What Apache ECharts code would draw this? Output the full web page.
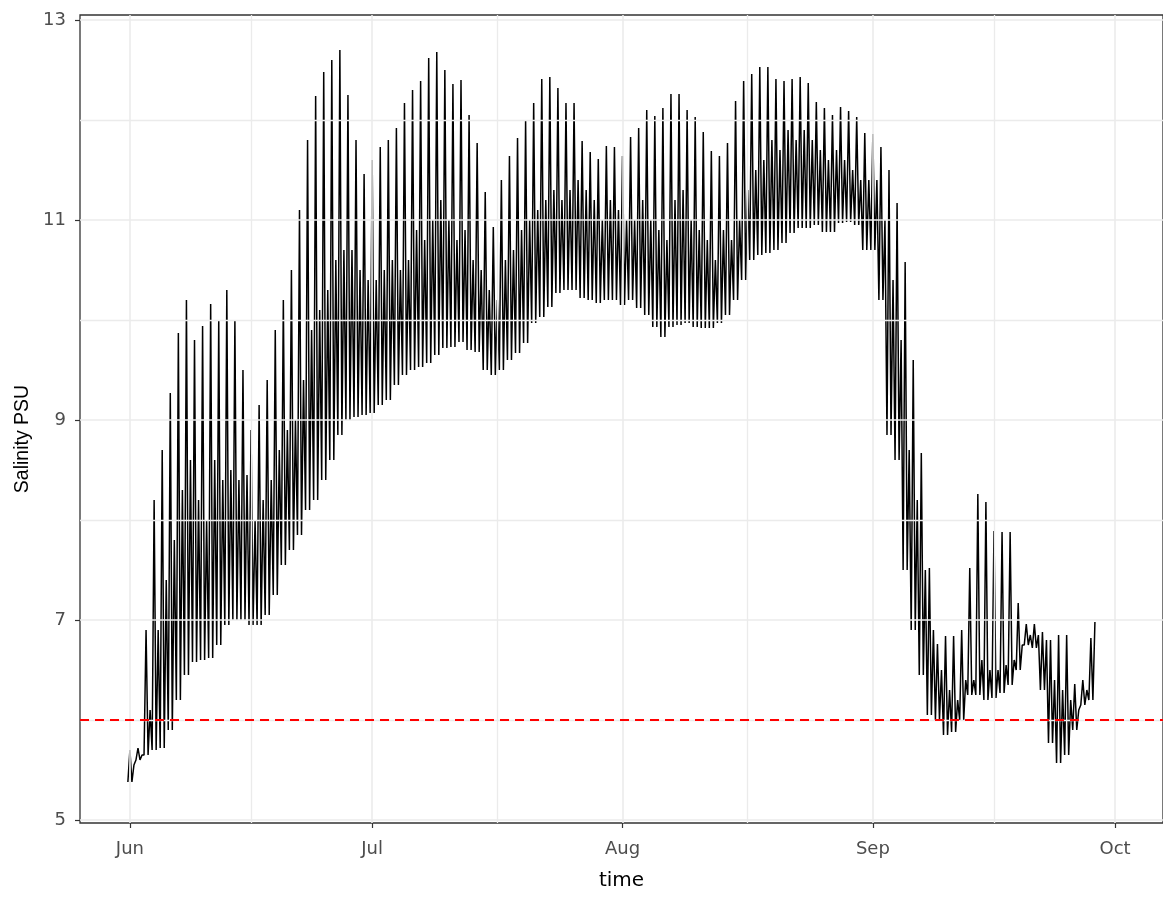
<!DOCTYPE html>
<html><head><meta charset="utf-8">
<script src="https://cdn.jsdelivr.net/npm/echarts@6/dist/echarts.min.js"></script>
<style>html,body{margin:0;padding:0;background:#fff}#c{width:1163px;height:898px}</style>
</head><body><div id="c"></div>
<script>
// first sample day (Jun 1)
const startDate = [2020, 5, 1];
// daily baseline (trough) salinity, PSU, one value per day from Jun 1
const low = [5.38,5.6,5.65,5.7,5.72,5.9,6.2,6.45,6.58,6.6,6.62,6.75,6.95,7.0,7.0,6.95,6.95,7.05,7.25,7.55,
7.7,7.85,8.1,8.2,8.4,8.6,8.85,9.0,9.03,9.05,9.07,9.15,9.2,9.35,9.45,9.5,9.53,9.57,9.65,9.72,
9.73,9.78,9.7,9.68,9.5,9.45,9.5,9.6,9.67,9.77,9.97,10.03,10.13,10.27,10.3,10.3,10.22,10.2,10.17,10.2,
10.2,10.15,10.2,10.12,10.05,9.93,9.83,9.93,9.95,9.97,9.93,9.92,9.92,9.97,10.05,10.2,10.4,10.6,10.65,10.67,
10.7,10.77,10.87,10.92,10.92,10.95,10.88,10.88,10.97,10.98,10.95,10.7,10.7,10.2,8.85,8.6,7.5,6.9,6.45,6.05,
6.0,5.85,5.88,6.0,6.25,6.25,6.2,6.22,6.27,6.35,6.5,6.75,6.72,6.3,5.77,5.57,5.65,5.9,6.15,6.2];
// daily main (tall) spike peak
const hi1 = [5.7,5.72,6.9,8.2,8.7,9.27,9.87,10.2,9.8,9.94,10.16,10.0,10.3,10.0,9.5,8.9,9.15,9.4,9.9,10.2,
10.5,11.1,11.8,12.24,12.48,12.6,12.7,12.25,11.8,11.46,11.6,11.73,11.8,11.92,12.17,12.3,12.39,12.62,12.68,12.5,
12.36,12.4,12.05,11.77,11.28,10.93,11.4,11.64,11.82,11.99,12.17,12.41,12.43,12.32,12.17,12.17,11.79,11.68,11.61,11.74,
11.73,11.64,11.83,11.92,12.1,12.04,12.12,12.26,12.26,12.1,12.03,11.88,11.69,11.64,11.77,12.19,12.39,12.46,12.53,12.53,
12.41,12.39,12.41,12.43,12.37,12.18,12.12,12.05,12.13,12.09,12.03,11.87,11.86,11.73,11.5,11.17,10.58,9.6,8.67,7.52,
6.76,6.84,6.84,6.9,7.52,8.26,8.18,7.89,7.88,7.88,7.17,6.96,6.96,6.88,6.8,6.85,6.85,6.36,6.4,6.82];
// daily secondary (smaller) spike peak
const hi2 = [5.55,5.65,6.1,6.9,7.4,7.8,8.3,8.6,8.2,8.0,8.6,8.4,8.5,8.4,8.45,8.0,8.2,8.4,8.7,8.9,
9.0,9.4,9.9,10.1,10.3,10.6,10.7,10.7,10.5,10.4,10.4,10.5,10.6,10.5,10.6,10.9,10.8,11.0,11.2,11.0,
10.8,10.9,10.6,10.5,10.3,10.2,10.6,10.7,10.9,11.0,11.1,11.2,11.3,11.2,11.3,11.4,11.3,11.2,11.0,11.2,
11.1,11.0,11.0,11.2,11.0,10.9,10.8,11.2,11.3,11.0,10.9,10.8,10.6,10.9,10.8,11.0,11.3,11.5,11.6,11.8,
11.7,11.9,11.8,11.9,11.8,11.7,11.6,11.7,11.6,11.5,11.4,11.4,11.4,11.0,10.4,9.8,8.7,8.2,7.5,6.9,
6.5,6.3,6.2,6.4,6.4,6.6,6.5,6.5,6.55,6.6,6.75,6.85,6.85,6.8,6.4,6.3,6.2,6.1,6.3,6.98];

const yTicks = [5, 7, 9, 11, 13];
const yMinor = [6, 8, 10, 12];
const monthStarts = [[2020,5,1],[2020,6,1],[2020,7,1],[2020,8,1],[2020,9,1]];
const monthNames = ['Jun','Jul','Aug','Sep','Oct'];
const xMinor = [[2020,5,16,0],[2020,6,16,12],[2020,7,16,12],[2020,8,16,0]];
const threshold = 6;

const DAY = 86400000;
const t0 = Date.UTC(...startDate);
const toDay = a => (Date.UTC(...a) - t0) / DAY;
const phase = [-0.25, 0, 0.25, 0.5];
const points = [];
low.forEach((v, i) => {
  [v, hi1[i], v, hi2[i]].forEach((y, k) => points.push([i + phase[k], y]));
});
const monthDays = monthStarts.map(toDay);
const minorDays = xMinor.map(toDay);
const gridCol = '#ebebeb';
const wide = 'DejaVu Sans, Verdana, sans-serif';
const narrow = 'Liberation Sans, Arial, sans-serif';

const chart = echarts.init(document.getElementById('c'), null, {renderer: 'canvas'});
chart.setOption({
  animation: false,
  backgroundColor: '#fff',
  grid: {left: 80, right: -2, top: 15, bottom: 75, show: true, borderColor: '#333', borderWidth: 1.3, backgroundColor: 'transparent'},
  xAxis: {
    type: 'value',
    min: -6.18,
    max: 127.93,
    name: 'time', nameLocation: 'middle', nameGap: 48,
    nameTextStyle: {fontFamily: wide, fontSize: 20, color: '#000'},
    axisLine: {show: false, onZero: false},
    axisTick: {show: true, length: 5, customValues: monthDays, lineStyle: {color: '#333', width: 1.2}},
    axisLabel: {customValues: monthDays, margin: 17, color: '#4d4d4d', fontSize: 18, fontFamily: wide,
      formatter: v => { const i = monthDays.findIndex(d => Math.abs(d - v) < 1e-6); return i >= 0 ? monthNames[i] : ''; }},
    splitLine: {show: false}
  },
  yAxis: {
    type: 'value',
    min: 4.97, max: 13.05,
    name: 'Salinity PSU', nameLocation: 'middle', nameGap: 43,
    nameTextStyle: {fontFamily: narrow, fontSize: 19.5, color: '#000', padding: [0, 40, 0, 0]},
    axisLine: {show: false, onZero: false},
    axisTick: {show: true, length: 5, customValues: yTicks, lineStyle: {color: '#333', width: 1.2}},
    axisLabel: {customValues: yTicks, margin: 14, color: '#4d4d4d', fontSize: 18, fontFamily: wide},
    splitLine: {show: false}
  },
  series: [
    {
      type: 'line', data: [], z: 0, silent: true,
      markLine: {
        silent: true, symbol: 'none', label: {show: false}, animation: false,
        data: [
          ...yTicks.map(v => ({yAxis: v, lineStyle: {color: gridCol, width: 1.6, type: 'solid'}})),
          ...yMinor.map(v => ({yAxis: v, lineStyle: {color: gridCol, width: 1.3, type: 'solid'}})),
          ...monthDays.map(v => ({xAxis: v, lineStyle: {color: gridCol, width: 1.6, type: 'solid'}})),
          ...minorDays.map(v => ({xAxis: v, lineStyle: {color: gridCol, width: 1.3, type: 'solid'}}))
        ]
      }
    },
    {
      type: 'line', data: points, showSymbol: false, z: 2,
      lineStyle: {color: '#000', width: 1.5},
      itemStyle: {color: '#000'}
    },
    {
      type: 'line', data: [], z: 3, silent: true,
      markLine: {
        silent: true, symbol: 'none', label: {show: false}, animation: false,
        data: [{yAxis: threshold}],
        lineStyle: {color: '#ff0000', width: 2, type: [9, 6]}
      }
    }
  ]
});
</script>
</body></html>
